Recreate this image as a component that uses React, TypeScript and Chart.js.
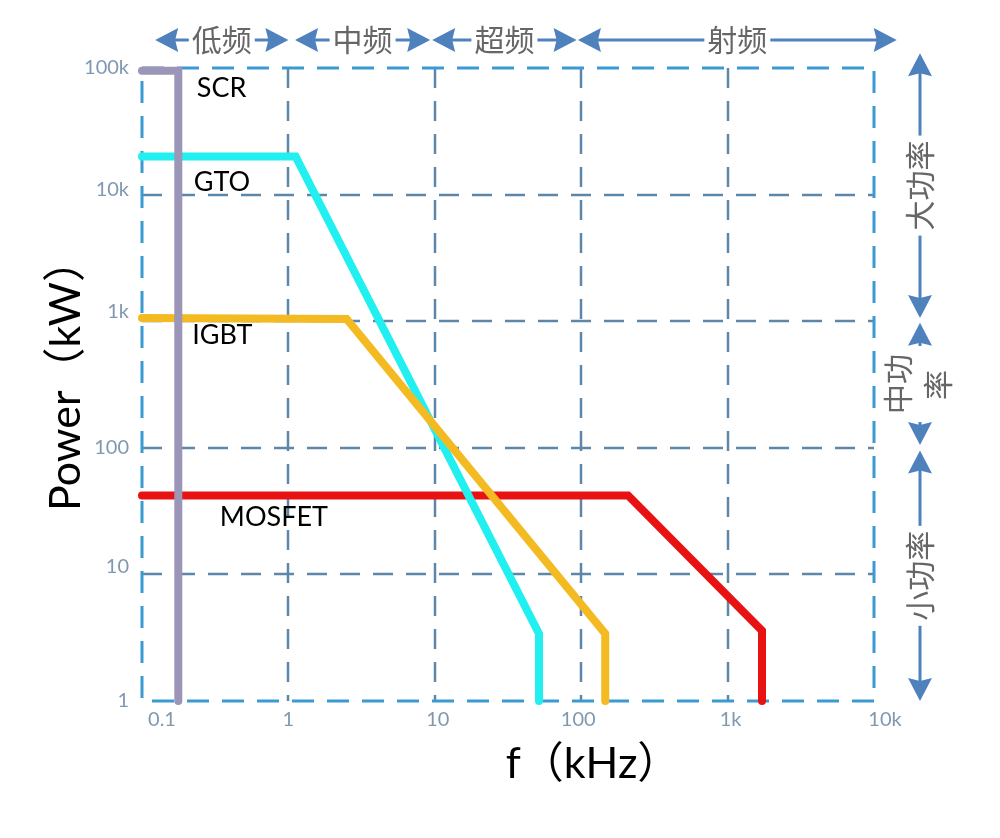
import React, { useEffect, useRef } from "react";
import { Chart, registerables } from "chart.js";

Chart.register(...registerables);

// ---- data (frequency in kHz, power in kW) ----
const scrFreq = [0.1, 0.177, 0.177];
const scrPower = [95000, 95000, 1];
const gtoFreq = [0.1, 1.12, 51.5, 51.5];
const gtoPower = [20000, 20000, 3.4, 1];
const igbtFreq = [0.1, 2.5, 146, 146];
const igbtPower = [1060, 1040, 3.4, 1];
const mosfetFreq = [0.1, 209, 1718, 1718];
const mosfetPower = [42, 42, 3.6, 1];

const seriesNames = ["SCR", "GTO", "IGBT", "MOSFET"];
const seriesLabelFreq = [0.237, 0.226, 0.22, 0.34];
const seriesLabelPower = [69500, 12400, 780, 28];

const xTicks = [0.1, 1, 10, 100, 1000, 10000];
const xTickLabels = ["0.1", "1", "10", "100", "1k", "10k"];
const yTicks = [1, 10, 100, 1000, 10000, 100000];
const yTickLabels = ["1", "10", "100", "1k", "10k", "100k"];

const freqBandNames = ["低频", "中频", "超频", "射频"];
const freqBandFrom = [0.123, 1.11, 9.6, 95];
const freqBandTo = [1.0, 9.3, 93, 14300];

const powerBandNames = ["大功率", "中功率", "小功率"];
const powerBandFrom = [1060, 105, 1.0];
const powerBandTo = [131000, 970, 95];

const xTitle = "f（kHz）";
const yTitle = "Power（kW）";

const zip = (xs: number[], ys: number[]) => xs.map((x, i) => ({ x, y: ys[i] }));

function arrowHead(ctx: CanvasRenderingContext2D, tx: number, ty: number, dx: number, dy: number) {
  const len = 23;
  const half = 12;
  const bx = tx - dx * len;
  const by = ty - dy * len;
  const px = -dy;
  const py = dx;
  ctx.beginPath();
  ctx.moveTo(tx, ty);
  ctx.lineTo(bx + px * half, by + py * half);
  ctx.lineTo(bx + dx * 3, by + dy * 3);
  ctx.lineTo(bx - px * half, by - py * half);
  ctx.closePath();
  ctx.fill();
}

const decorPlugin = {
  id: "decor",
  beforeDatasetsDraw(chart: any) {
    const { ctx, chartArea: a, scales } = chart;
    const xs = scales.x;
    const ys = scales.y;
    ctx.save();
    ctx.lineWidth = 2.5;
    ctx.setLineDash([20, 13]);
    ctx.strokeStyle = "#5E86A8";
    for (const v of xTicks.slice(1, -1)) {
      const x = Math.round(xs.getPixelForValue(v));
      ctx.beginPath();
      ctx.moveTo(x, a.top);
      ctx.lineTo(x, a.bottom);
      ctx.stroke();
    }
    for (const v of yTicks.slice(1, -1)) {
      const y = Math.round(ys.getPixelForValue(v));
      ctx.beginPath();
      ctx.moveTo(a.left, y);
      ctx.lineTo(a.right, y);
      ctx.stroke();
    }
    ctx.lineWidth = 3;
    ctx.strokeStyle = "#3A9AD2";
    ctx.setLineDash([22, 13]);
    ctx.strokeRect(a.left, a.top, a.right - a.left, a.bottom - a.top);
    ctx.restore();
  },
  afterDraw(chart: any) {
    const { ctx, chartArea: a, scales } = chart;
    const xs = scales.x;
    const ys = scales.y;
    ctx.save();

    // tick labels
    ctx.fillStyle = "#8099B0";
    ctx.font = "20px Lato, 'Noto Sans'";
    ctx.textBaseline = "middle";
    ctx.textAlign = "center";
    const xOff = [20, 0, 3, -3, 3, 11];
    xTicks.forEach((v, i) => {
      ctx.fillText(xTickLabels[i], xs.getPixelForValue(v) + xOff[i], a.bottom + 19);
    });
    ctx.textAlign = "right";
    const yOff = [0, -8, 0, -10, -5, 0];
    yTicks.forEach((v, i) => {
      ctx.fillText(yTickLabels[i], a.left - 13, ys.getPixelForValue(v) + yOff[i]);
    });

    // axis titles
    ctx.fillStyle = "#000";
    ctx.font = "43px Lato, 'Noto Sans CJK SC'";
    ctx.textAlign = "center";
    ctx.textBaseline = "alphabetic";
    ctx.fillText(xTitle, 593, 778);
    ctx.save();
    ctx.translate(80, 375);
    ctx.rotate(-Math.PI / 2);
    ctx.fillText(yTitle, 0, 0);
    ctx.restore();

    // series labels
    ctx.font = "27px Lato, 'Noto Sans'";
    ctx.textAlign = "left";
    ctx.textBaseline = "middle";
    seriesNames.forEach((n, i) => {
      ctx.fillText(n, xs.getPixelForValue(seriesLabelFreq[i]), ys.getPixelForValue(seriesLabelPower[i]));
    });

    // frequency bands (top)
    const arrowCol = "#4F81BD";
    const bandY = 40;
    ctx.font = "30px 'Noto Sans CJK SC'";
    ctx.textAlign = "center";
    ctx.textBaseline = "middle";
    freqBandNames.forEach((n, i) => {
      const x1 = xs.getPixelForValue(freqBandFrom[i]);
      const x2 = xs.getPixelForValue(freqBandTo[i]);
      ctx.strokeStyle = arrowCol;
      ctx.fillStyle = arrowCol;
      ctx.lineWidth = 3;
      ctx.setLineDash([]);
      ctx.beginPath();
      ctx.moveTo(x1 + 10, bandY);
      ctx.lineTo(x2 - 10, bandY);
      ctx.stroke();
      arrowHead(ctx, x1, bandY, -1, 0);
      arrowHead(ctx, x2, bandY, 1, 0);
      const cx = (x1 + x2) / 2;
      const w = ctx.measureText(n).width;
      ctx.fillStyle = "#fff";
      ctx.fillRect(cx - w / 2 - 3, bandY - 16, w + 6, 32);
      ctx.fillStyle = "#666";
      ctx.fillText(n, cx, bandY);
    });

    // power bands (right)
    const bandX = 920;
    powerBandNames.forEach((n, i) => {
      const y1 = ys.getPixelForValue(powerBandTo[i]);
      const y2 = ys.getPixelForValue(powerBandFrom[i]);
      ctx.strokeStyle = arrowCol;
      ctx.fillStyle = arrowCol;
      ctx.lineWidth = 3;
      ctx.beginPath();
      ctx.moveTo(bandX, y1 + 10);
      ctx.lineTo(bandX, y2 - 10);
      ctx.stroke();
      arrowHead(ctx, bandX, y1, 0, -1);
      arrowHead(ctx, bandX, y2, 0, 1);
      const cy = (y1 + y2) / 2;
      if (i !== 1) {
        const w = ctx.measureText(n).width;
        ctx.fillStyle = "#fff";
        ctx.fillRect(bandX - 16, cy - w / 2 - 5, 32, w + 10);
        ctx.fillStyle = "#666";
        ctx.save();
        ctx.translate(bandX, cy);
        ctx.rotate(-Math.PI / 2);
        ctx.fillText(n, 0, 0);
        ctx.restore();
      } else {
        const first = n.slice(0, 2);
        const second = n.slice(2);
        const w = ctx.measureText(first).width;
        ctx.fillStyle = "#fff";
        ctx.fillRect(bandX - 36, cy - w / 2 - 8, 72, w + 16);
        ctx.fillStyle = "#666";
        ctx.save();
        ctx.translate(bandX - 22, cy);
        ctx.rotate(-Math.PI / 2);
        ctx.fillText(first, 0, 0);
        ctx.restore();
        ctx.save();
        ctx.translate(bandX + 18, cy + 1);
        ctx.rotate(-Math.PI / 2);
        ctx.fillText(second, 0, 0);
        ctx.restore();
      }
    });

    ctx.restore();
  },
};

export default function App() {
  const canvasRef = useRef<HTMLCanvasElement | null>(null);

  useEffect(() => {
    const canvas = canvasRef.current;
    if (!canvas) return;
    const common = {
      borderWidth: 8,
      pointRadius: 0,
      tension: 0,
      fill: false,
      borderCapStyle: "round" as const,
      borderJoinStyle: "miter" as const,
      clip: 12,
    };
    const chart = new Chart(canvas, {
      type: "line",
      data: {
        datasets: [
          { ...common, label: seriesNames[0], data: zip(scrFreq, scrPower), borderColor: "#9B95B7", order: 0 },
          { ...common, label: seriesNames[2], data: zip(igbtFreq, igbtPower), borderColor: "#F4BA22", order: 1 },
          { ...common, label: seriesNames[1], data: zip(gtoFreq, gtoPower), borderColor: "#22F0F0", order: 2 },
          { ...common, label: seriesNames[3], data: zip(mosfetFreq, mosfetPower), borderColor: "#E81212", order: 3 },
        ],
      },
      options: {
        responsive: false,
        animation: false,
        events: [],
        parsing: false,
        layout: { padding: { left: 142, top: 68, right: 126, bottom: 137 } },
        scales: {
          x: { type: "logarithmic", min: 0.1, max: 10000, display: false },
          y: { type: "logarithmic", min: 1, max: 100000, display: false },
        },
        plugins: { legend: { display: false }, tooltip: { enabled: false } },
      },
      plugins: [decorPlugin],
    } as any);
    return () => chart.destroy();
  }, []);

  return (
    <div style={{ position: "absolute", left: 0, top: 0, width: 1000, height: 838, background: "#fff" }}>
      <canvas ref={canvasRef} width={1000} height={838} style={{ width: 1000, height: 838, display: "block" }} />
    </div>
  );
}
